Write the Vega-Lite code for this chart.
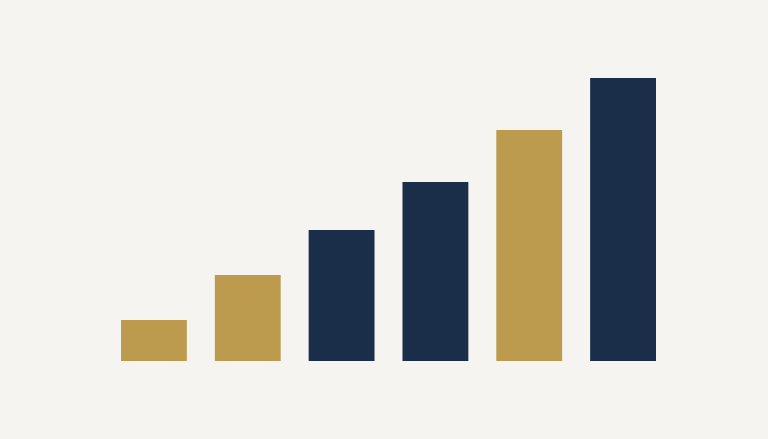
{
  "$schema": "https://vega.github.io/schema/vega-lite/v6.json",
  "autosize": "none",
  "width": 535,
  "height": 283,
  "padding": {"left": 121, "top": 78, "right": 112, "bottom": 78},
  "background": "#f6f4f0",
  "config": {"view": {"stroke": null}},
  "data": {
    "values": [
      {"bar": "A", "value": 41, "group": "gold"},
      {"bar": "B", "value": 86, "group": "gold"},
      {"bar": "C", "value": 131, "group": "navy"},
      {"bar": "D", "value": 179, "group": "navy"},
      {"bar": "E", "value": 231, "group": "gold"},
      {"bar": "F", "value": 283, "group": "navy"}
    ]
  },
  "mark": "bar",
  "encoding": {
    "x": {
      "field": "bar",
      "type": "nominal",
      "sort": null,
      "scale": {"paddingInner": 0.298, "paddingOuter": 0},
      "axis": null
    },
    "y": {
      "field": "value",
      "type": "quantitative",
      "scale": {"domain": [0, 283], "nice": false},
      "axis": null
    },
    "color": {
      "field": "group",
      "type": "nominal",
      "scale": {"domain": ["gold", "navy"], "range": ["#bc9b4f", "#1a2e4a"]},
      "legend": null
    }
  }
}
